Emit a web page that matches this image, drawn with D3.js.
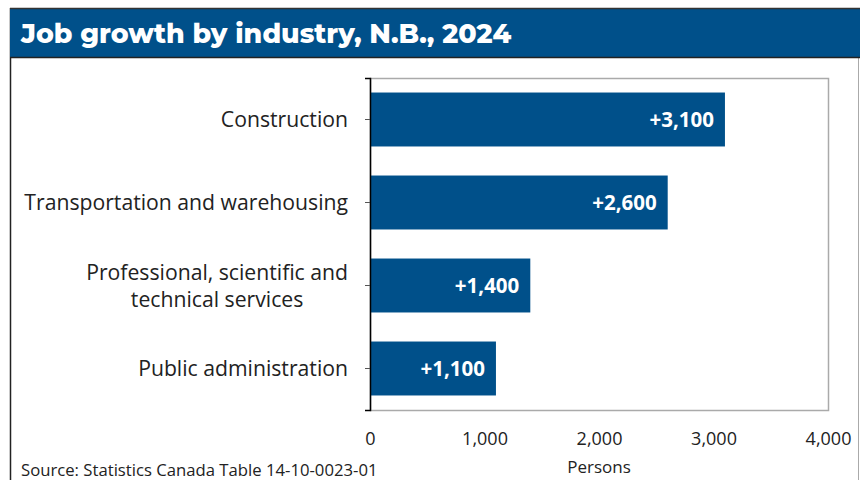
<!DOCTYPE html>
<html>
<head>
<meta charset="utf-8">
<script src="https://cdn.jsdelivr.net/npm/d3@7"></script>
<style>
  body { margin: 0; background: #fff; }
  text { font-family: "Open Sans", sans-serif; }
</style>
</head>
<body>
<div id="chart"></div>
<script>
// Data
var industries = ["Construction", "Transportation and warehousing", "Professional, scientific and|technical services", "Public administration"];
var jobGrowth = [3100, 2600, 1400, 1100];
var xTicks = [0, 1000, 2000, 3000, 4000];

var W = 860, H = 480;
var blue = "#00508a";

var svg = d3.select("#chart")
  .append("svg")
    .attr("width", W)
    .attr("height", H);

// Outer frame
svg.append("rect")
    .attr("x", 10.5).attr("y", 8.5)
    .attr("width", 848).attr("height", 480)
    .attr("fill", "#fff")
    .attr("stroke", "#aaa");
svg.append("line")
    .attr("x1", 10.5).attr("x2", 10.5).attr("y1", 8).attr("y2", H)
    .attr("stroke", "#222").attr("stroke-width", 1.5);

// Title bar
svg.append("rect")
    .attr("x", 10).attr("y", 8)
    .attr("width", W - 10).attr("height", 49.5)
    .attr("fill", blue);
svg.append("line")
    .attr("x1", 10).attr("x2", W).attr("y1", 8.5).attr("y2", 8.5)
    .attr("stroke", "#333").attr("stroke-width", 1.5);
svg.append("line")
    .attr("x1", 10).attr("x2", W).attr("y1", 57.5).attr("y2", 57.5)
    .attr("stroke", "#222").attr("stroke-width", 1.5);
svg.append("text")
    .attr("x", 21)
    .attr("y", 43)
    .attr("fill", "#fff")
    .attr("font-size", "26.8px")
    .attr("font-weight", 800)
    .style("font-family", "Montserrat, 'Open Sans', sans-serif")
    .text("Job growth by industry, N.B., 2024");

// Plot area
var plot = {left: 370, right: 828, top: 78, bottom: 410};

var x = d3.scaleLinear().domain([0, 4000]).range([plot.left, plot.right]);
var y = d3.scaleBand().domain(industries).range([plot.top, plot.bottom]).paddingInner(0.35).paddingOuter(0.175);

var g = svg.append("g");

g.append("rect")
    .attr("x", plot.left + 0.5).attr("y", plot.top + 0.5)
    .attr("width", plot.right - plot.left).attr("height", plot.bottom - plot.top)
    .attr("fill", "none")
    .attr("stroke", "#aaa")
    .attr("stroke-width", 1.5);

// Bars
g.selectAll(".bar")
  .data(jobGrowth)
  .enter()
  .append("rect")
    .attr("class", "bar")
    .attr("x", x(0))
    .attr("y", function(d, i) { return y(industries[i]); })
    .attr("width", function(d) { return x(d) - x(0); })
    .attr("height", y.bandwidth())
    .attr("fill", blue);

// Value labels
g.selectAll(".val")
  .data(jobGrowth)
  .enter()
  .append("text")
    .attr("class", "val")
    .attr("x", function(d) { return x(d) - 11; })
    .attr("y", function(d, i) { return y(industries[i]) + y.bandwidth() / 2; })
    .attr("dy", "0.36em")
    .attr("text-anchor", "end")
    .attr("fill", "#fff")
    .attr("font-size", "20.5px")
    .attr("font-weight", 700)
    .text(function(d) { return "+" + d3.format(",")(d); });

// Y axis
var yAxis = g.append("g")
    .attr("transform", "translate(" + plot.left + ",0)")
    .call(d3.axisLeft(y).tickSize(5).tickSizeOuter(5).tickFormat(""));
yAxis.select(".domain").attr("stroke", "#000").attr("stroke-width", 1.5);
yAxis.selectAll(".tick line").attr("stroke", "#555");

// Category labels: block right-aligned, wrapped lines centred within the block
var labelRight = 348;
industries.forEach(function(name, i) {
  var lines = name.split("|");
  var cy = y(name) + y.bandwidth() / 2;
  var t = g.append("text")
      .attr("y", cy - (lines.length - 1) * 13.5)
      .attr("text-anchor", "end")
      .attr("fill", "#222")
      .attr("font-size", "21.2px");
  var spans = lines.map(function(l, j) {
    return t.append("tspan")
      .attr("x", labelRight)
      .attr("dy", j === 0 ? "0.36em" : "27px")
      .text(l);
  });
  if (lines.length > 1) {
    var maxW = d3.max(spans, function(s) { return s.node().getComputedTextLength(); });
    t.attr("text-anchor", "middle");
    spans.forEach(function(s) { s.attr("x", labelRight - maxW / 2); });
  }
});

// X axis (labels only)
var xAxis = g.append("g")
    .attr("transform", "translate(0," + plot.bottom + ")")
    .call(d3.axisBottom(x).tickValues(xTicks).tickSize(0).tickPadding(22).tickFormat(d3.format(",")));
xAxis.select(".domain").remove();
xAxis.selectAll("text")
    .attr("fill", "#222")
    .attr("font-size", "18px")
    .style("font-family", "'Open Sans', sans-serif");

svg.append("text")
    .attr("x", x(2000))
    .attr("y", 473)
    .attr("text-anchor", "middle")
    .attr("fill", "#222")
    .attr("font-size", "17px")
    .text("Persons");

// Source
svg.append("text")
    .attr("x", 21)
    .attr("y", 476)
    .attr("fill", "#222")
    .attr("font-size", "16.7px")
    .text("Source: Statistics Canada Table 14-10-0023-01");
</script>
</body>
</html>
